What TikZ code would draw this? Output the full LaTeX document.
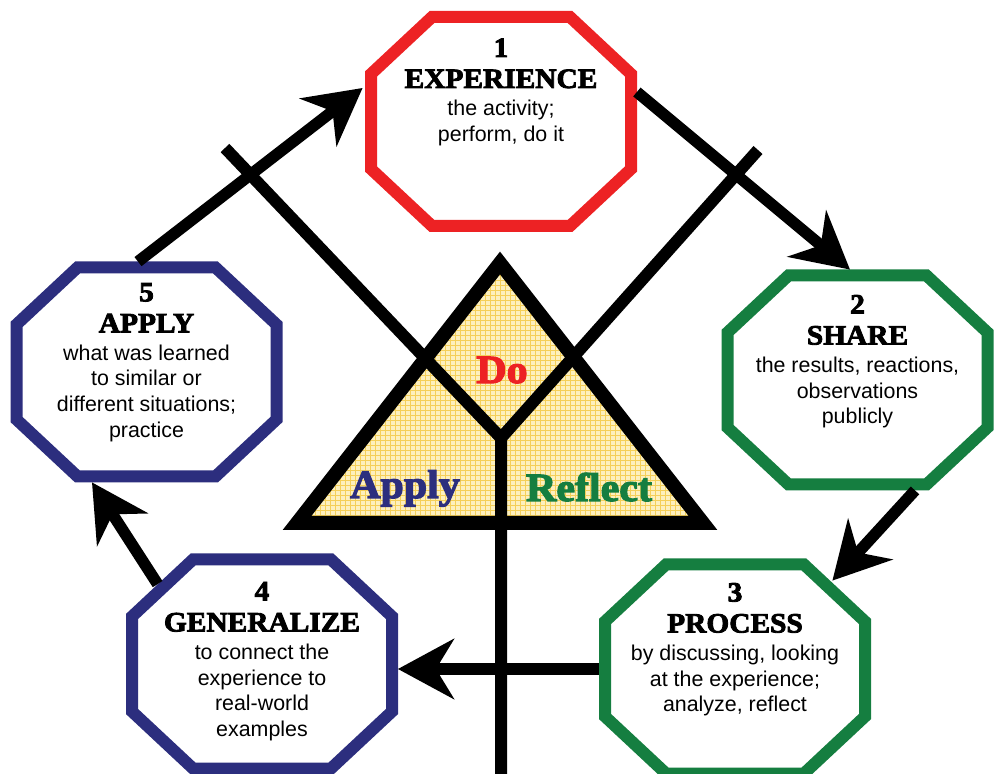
\documentclass[tikz,border=0pt]{standalone}
\usepackage{fontspec}
\usetikzlibrary{positioning,arrows.meta}

\newfontfamily\stepfont{Liberation Sans}
\newfontfamily\titlefont{Liberation Serif}[BoldFeatures={FakeBold=3,FakeStretch=1.05}]

\definecolor{doRed}{HTML}{ED2224}
\definecolor{applyBlue}{HTML}{2C2E7E}
\definecolor{reflectGreen}{HTML}{157E40}
\definecolor{triFill}{HTML}{FDF0BE}
\definecolor{triGrid}{HTML}{F5CF58}

\newcommand{\heading}[1]{{\titlefont\bfseries\fontsize{14}{16}\selectfont #1}}
% stop-sign frame round an (empty) step box
\newcommand{\octframe}[2]{%
  \draw[octline,draw=#2,shift={(#1.center)}]
    (-69,-104.5) -- (69,-104.5) -- (130,-47.5) -- (130,47.5)
    -- (69,104.5) -- (-69,104.5) -- (-130,47.5) -- (-130,-47.5) -- cycle;}

\tikzset{
  octbox/.style={minimum width=135.5pt,minimum height=110pt,inner sep=0pt},
  octline/.style={line width=6pt,fill=white,line join=miter},
  steptext/.style={font=\stepfont\fontsize{10.7}{12.8}\selectfont,align=center,inner sep=0pt},
  corner/.style={font=\titlefont\bfseries\fontsize{20}{24}\selectfont,inner sep=0pt,anchor=base},
  flow/.style={line width=5.75pt,-{Stealth[length=28pt,width=30pt,inset=9pt]}},
  bar/.style={line width=6pt,line join=miter},
}

\begin{document}
\begin{tikzpicture}[x=0.5pt,y=-0.5pt]
  \useasboundingbox (0,0) rectangle (996,774);

  % triangle in the middle
  \coordinate (apex) at (500,263);
  \coordinate (base left) at (297,523);
  \coordinate (base right) at (703,523);
  \begin{scope}
    \clip (apex) -- (base right) -- (base left) -- cycle;
    \fill[triFill] (280,530) rectangle (720,250);
    \draw[triGrid,line width=0.3pt,step=2.5pt] (280,530) grid (720,250);
  \end{scope}
  \draw[line width=7pt,line join=miter] (apex) -- (base right) -- (base left) -- cycle;

  % the Y that splits it up
  \coordinate (arm left) at (225,148);
  \coordinate (arm right) at (758,150);
  \coordinate (split) at (501,438);
  \coordinate (stem foot) at (501,790);
  \draw[bar] (arm left) -- (split) -- (stem foot);
  \draw[bar] (arm right) -- (split);

  \node[corner,text=doRed] (do) at (502,383) {Do};
  \node[corner,text=applyBlue] (apply-word) at (405,498) {Apply};
  \node[corner,text=reflectGreen] (reflect-word) at (589,501) {Reflect};

  % the five steps
  \node[octbox] (experience) at (501,121.5) {};
  \node[octbox] (share) at (857.5,380) {};
  \node[octbox] (process) at (735,669) {};
  \node[octbox] (generalize) at (262,664) {};
  \node[octbox] (apply) at (146.5,372) {};
  \octframe{experience}{doRed}
  \octframe{share}{reflectGreen}
  \octframe{process}{reflectGreen}
  \octframe{generalize}{applyBlue}
  \octframe{apply}{applyBlue}

  \node[steptext,below=13.5pt of experience.north] (experience-text)
    {\heading{1}\\[2.7pt]\heading{EXPERIENCE}\\[1.2pt]the activity;\\perform, do it};
  \node[steptext,below=12.5pt of share.north] (share-text)
    {\heading{2}\\[2.7pt]\heading{SHARE}\\[1.2pt]the results, reactions,\\observations\\publicly};
  \node[steptext,below=12pt of process.north] (process-text)
    {\heading{3}\\[2.7pt]\heading{PROCESS}\\[1.2pt]by discussing, looking\\at the experience;\\analyze, reflect};
  \node[steptext,below=14pt of generalize.north] (generalize-text)
    {\heading{4}\\[2.7pt]\heading{GENERALIZE}\\[1.2pt]to connect the\\experience to\\real-world\\examples};
  \node[steptext,below=10.5pt of apply.north] (apply-text)
    {\heading{5}\\[2.7pt]\heading{APPLY}\\[1.2pt]what was learned\\to similar or\\different situations;\\practice};

  % the cycle
  \draw[flow] ([xshift=-4.25pt]apply.north) -- ([xshift=-1.25pt,yshift=16.75pt]experience.west);
  \draw[flow] ([yshift=14.75pt]experience.east) -- ([xshift=-3.75pt]share.north);
  \draw[flow] ([xshift=28.75pt]share.south) -- ([xshift=-19.25pt,yshift=-11pt]process.north east);
  \draw[flow] (process.west) -- (process.west -| generalize.east);
  \draw[flow] ([xshift=15.75pt,yshift=-15.25pt]generalize.north west) -- ([xshift=-27.25pt]apply.south);
\end{tikzpicture}
\end{document}
